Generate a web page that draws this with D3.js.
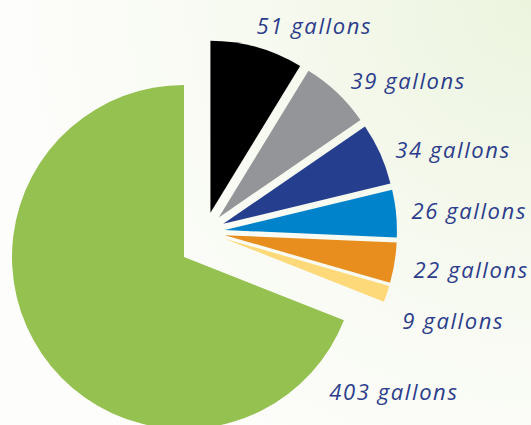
<!DOCTYPE html>
<html>
<head>
<meta charset="utf-8">
<script src="https://cdn.jsdelivr.net/npm/d3@7"></script>
<style>
  html, body { margin: 0; padding: 0; background: #fff; }
  svg { display: block; }
</style>
</head>
<body>
<div id="chart"></div>
<script>
(function () {
  'use strict';

  // data, clockwise from 12 o'clock
  var gallons = [51, 39, 34, 26, 22, 9, 403];
  var labels  = ['51 gallons', '39 gallons', '34 gallons', '26 gallons',
                 '22 gallons', '9 gallons', '403 gallons'];
  var colours = ['#000000', '#939598', '#253f8e', '#0083ca',
                 '#e78e1e', '#fed97a', '#94c150'];

  // label placement (degrees clockwise from 12, px from slice apex)
  var labelAngle  = [29.2, 54.4, 72.4, 85.8, 98.3, 110.0, 122.9];
  var labelRadius = [213, 233, 241, 245, 249, 244, 250];

  var W = 531, H = 425;
  var R = 172;
  var cx = 184, cy = 257;       // apex of the big wedge
  var groupShift = [21, -25];   // small wedges pulled out as a group
  var explode = 20;             // ...then each along its own bisector
  var BIG = gallons.length - 1;

  var svg = d3.select('#chart').append('svg')
    .attr('width', W).attr('height', H);

  var defs = svg.append('defs');
  var grad = defs.append('radialGradient')
    .attr('id', 'bg').attr('gradientUnits', 'userSpaceOnUse')
    .attr('cx', W).attr('cy', 0).attr('r', 520);
  grad.append('stop').attr('offset', 0).attr('stop-color', '#ecf4de');
  grad.append('stop').attr('offset', 0.55).attr('stop-color', '#f7faf1');
  grad.append('stop').attr('offset', 1).attr('stop-color', '#fdfdfb');

  svg.append('rect').attr('width', W).attr('height', H).attr('fill', 'url(#bg)');

  var pie = d3.pie().sort(null).value(function (d) { return d; });
  var arcs = pie(gallons);
  var arc = d3.arc().innerRadius(0).outerRadius(R);

  function dir(a) { return [Math.sin(a), -Math.cos(a)]; }
  var rad = Math.PI / 180;

  arcs.forEach(function (a, i) {
    var ox = cx, oy = cy;
    if (i !== BIG) {
      var m = dir((a.startAngle + a.endAngle) / 2);
      ox += groupShift[0] + explode * m[0];
      oy += groupShift[1] + explode * m[1];
    }
    var g = svg.append('g').attr('transform', 'translate(' + ox + ',' + oy + ')');
    g.append('path').attr('d', arc(a)).attr('fill', colours[i]);

    var p = dir(labelAngle[i] * rad);
    g.append('text')
      .attr('x', labelRadius[i] * p[0])
      .attr('y', labelRadius[i] * p[1] + 7)
      .attr('text-anchor', 'middle')
      .attr('font-family', '"Open Sans", Roboto, sans-serif')
      .attr('font-style', 'italic')
      .attr('font-size', 22)
      .attr('letter-spacing', 1.6)
      .attr('fill', '#2c3d8c')
      .text(labels[i]);
  });
}());
</script>
</body>
</html>
